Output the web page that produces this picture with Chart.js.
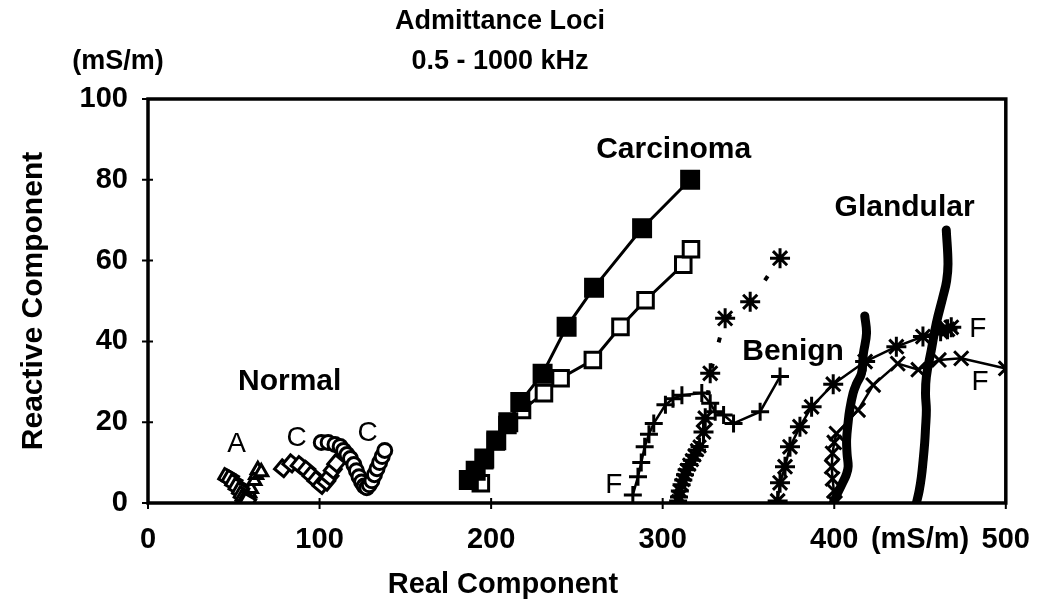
<!DOCTYPE html>
<html>
<head>
<meta charset="utf-8">
<script src="https://cdn.jsdelivr.net/npm/chart.js@4.4.1/dist/chart.umd.min.js"></script>
<style>
  html, body { margin: 0; padding: 0; background: #fff; }
  #wrap { width: 1050px; height: 615px; position: relative; }
</style>
</head>
<body>
<div id="wrap"><canvas id="c" width="1050" height="615"></canvas></div>
<script>
// ---- Data ----
const xTicks = [0, 100, 200, 300, 400, 500];
const yTicks = [0, 20, 40, 60, 80, 100];

// Normal tissue
const normalA_sqX  = [46, 48, 50, 52, 54, 55, 56, 57, 58];
const normalA_sqY  = [6.5, 6, 5, 4, 3, 2, 1.2, 0.6, 0.3];
const normalA_triX = [56, 57, 58, 59, 60, 62, 63, 64, 66];
const normalA_triY = [0.5, 1, 2, 2.5, 3.5, 5.5, 7, 8.2, 7.7];
const normalC_diaX = [78.7, 83.5, 88.4, 92.3, 95.2, 98.1, 101, 103.9, 105.8, 107.7, 109.7];
const normalC_diaY = [8.6, 9.8, 9.4, 8.2, 6.9, 5.7, 4.5, 5.3, 6.5, 8.2, 9.8];
const normalC_cirX = [101, 105, 109, 112, 114, 116, 118, 120, 121.5, 123, 124.5, 126, 127.5, 129, 130.5, 132, 133.5, 135, 136.5, 138];
const normalC_cirY = [15, 15, 14.5, 14, 13, 12, 11, 9.5, 8, 6.5, 5.2, 4.2, 3.8, 4.5, 5.5, 7, 8.5, 10, 11.5, 13];

// Carcinoma
const carcFilledX = [187, 191, 196, 203, 210, 217, 230, 244, 260, 288, 316];
const carcFilledY = [5.7, 8, 11, 15.5, 20, 25, 32, 43.6, 53.3, 68, 80];
const carcOpenX   = [194, 196, 202.7, 209.5, 218, 230.8, 240.5, 259.3, 275.4, 290, 312, 316.5];
const carcOpenY   = [4.9, 10.6, 15.2, 19.3, 23, 27.2, 30.9, 35.4, 43.6, 50.2, 59, 62.8];

// Benign
const benPlusX = [282.6, 285.6, 287.5, 289.5, 292, 294.8, 301.6, 306, 311.2, 322.8, 327.7, 330.6, 335.5, 341.3, 356.8, 368.4];
const benPlusY = [2, 6.5, 10, 13.9, 17, 19.7, 24.3, 25.8, 26.7, 27.2, 24.7, 22.6, 21.8, 19.7, 22.6, 31.3];
const benStarLowX = [309, 309.5, 310, 311, 312, 313, 314, 315.5, 317, 318.5, 320, 321.5];
const benStarLowY = [0.5, 1.5, 3, 4.5, 5.7, 7, 8.2, 9.5, 10.6, 11.8, 13.1, 14];
const benStarHighX = [323.8, 324.8, 327.7, 336.4, 351, 368.4];
const benStarHighY = [17.6, 21, 32.1, 45.7, 49.8, 60.6];

// Right-hand loci (F)
const rStarX = [367, 368.4, 371.3, 374.2, 380, 386.8, 399.4, 418, 436.2, 451.7, 462, 466, 468.2];
const rStarY = [0.5, 5, 9, 13.9, 18.9, 23.8, 29.4, 35, 38.7, 41.2, 42.5, 43, 43.5];
const rCrossX = [400.4, 399.8, 399, 398.5, 399, 400, 401.3, 413.9, 422.7, 437, 449, 461, 474, 500];
const rCrossY = [0, 3, 6, 9, 12.3, 15, 17.2, 23, 29.2, 34.5, 33, 35.4, 35.8, 33.3];

// Glandular
const gland1X = [417.8, 418.8, 417, 415.9, 413, 411, 409, 408.1, 407.2, 407.5, 408.1, 407, 405.2, 402, 399.4];
const gland1Y = [46.3, 42, 37, 32.1, 29.5, 27.2, 23, 20, 15.6, 12, 9, 7, 5.3, 2.5, 0];
const gland2X = [465.3, 466.3, 465.5, 463.4, 459.5, 456.6, 453.7, 453.2, 453.7, 453.2, 452.7, 451.8, 450.8, 449.5, 447.9];
const gland2Y = [67.6, 59.3, 55, 51.1, 44.5, 37.9, 31.3, 27, 23, 18.5, 14.8, 10.5, 6.5, 3, 0];

// Text annotations
const labelTexts = ['Normal', 'Carcinoma', 'Benign', 'Glandular', 'A', 'C', 'C', 'F', 'F', 'F'];
const labelX     = [82.6, 306.4, 376, 441, 51.7, 86.6, 128, 271.5, 483.7, 485];
const labelY     = [30, 87.4, 37.4, 73, 14.6, 16.1, 17.3, 4.5, 43, 30];
const labelBold  = [true, true, true, true, false, false, false, false, false, false];

// ---- build ----
const pts = (xs, ys) => xs.map((x, i) => ({ x: x, y: ys[i] }));
const BLACK = '#000';
const FONT = "'Liberation Sans', Arial, Helvetica, sans-serif";

function ds(xs, ys, o) {
  return Object.assign({
    data: pts(xs, ys),
    borderColor: BLACK,
    backgroundColor: '#fff',
    pointBorderColor: BLACK,
    pointBackgroundColor: '#fff',
    showLine: true,
    borderWidth: 2.5,
    pointBorderWidth: 3,
    pointRadius: 7,
    pointHoverRadius: 7,
    tension: 0
  }, o);
}

const datasets = [
  ds(normalA_sqX, normalA_sqY, { showLine: false, pointStyle: 'rect', pointRotation: 30, pointRadius: 8.5 }),
  ds(normalA_triX, normalA_triY, { showLine: false, pointStyle: 'triangle', pointRadius: 7.5 }),
  ds(normalC_diaX, normalC_diaY, { showLine: false, pointStyle: 'rect', pointRotation: 40, pointRadius: 8.5 }),
  ds(normalC_cirX, normalC_cirY, { showLine: false, pointStyle: 'circle', pointRadius: 7 }),
  ds(carcFilledX, carcFilledY, { pointStyle: 'rect', pointRadius: 12, pointBackgroundColor: BLACK, borderWidth: 3 }),
  ds(carcOpenX, carcOpenY, { pointStyle: 'rect', pointRadius: 11, borderWidth: 3 }),
  ds(benPlusX, benPlusY, { pointStyle: 'cross', pointRadius: 9, borderWidth: 2.5, pointBorderWidth: 3 }),
  ds(benStarLowX, benStarLowY, { pointStyle: 'star', pointRadius: 9, borderWidth: 2.5 }),
  ds(benStarHighX, benStarHighY, { pointStyle: 'star', pointRadius: 10, borderWidth: 4, borderDash: [5, 22], borderDashOffset: -10 }),
  ds(rStarX, rStarY, { pointStyle: 'star', pointRadius: 10, borderWidth: 2.5 }),
  ds(rCrossX, rCrossY, { pointStyle: 'crossRot', pointRadius: 10, borderWidth: 2.5 }),
  ds(gland1X, gland1Y, { pointRadius: 0, borderWidth: 9, tension: 0.4, borderCapStyle: 'round', borderJoinStyle: 'round' }),
  ds(gland2X, gland2Y, { pointRadius: 0, borderWidth: 9, tension: 0.4, borderCapStyle: 'round', borderJoinStyle: 'round' })
];

const framePlugin = {
  id: 'frame',
  afterDatasetsDraw(chart) {
    const { ctx, chartArea: a, scales } = chart;
    ctx.save();
    ctx.strokeStyle = BLACK;
    ctx.lineWidth = 3.5;
    ctx.strokeRect(a.left, a.top, a.right - a.left, a.bottom - a.top);
    // tick marks crossing the axes
    ctx.lineWidth = 2;
    ctx.beginPath();
    yTicks.forEach(v => {
      const py = scales.y.getPixelForValue(v);
      ctx.moveTo(a.left - 6, py); ctx.lineTo(a.left + 5, py);
    });
    xTicks.forEach(v => {
      const px = scales.x.getPixelForValue(v);
      ctx.moveTo(px, a.bottom - 5); ctx.lineTo(px, a.bottom + 6);
    });
    ctx.stroke();

    // annotations
    ctx.fillStyle = BLACK;
    ctx.textAlign = 'center';
    ctx.textBaseline = 'middle';
    labelTexts.forEach((t, i) => {
      ctx.font = (labelBold[i] ? 'bold 30px ' : '28px ') + FONT;
      ctx.fillText(t, scales.x.getPixelForValue(labelX[i]), scales.y.getPixelForValue(labelY[i]));
    });

    // titles
    ctx.font = 'bold 27px ' + FONT;
    ctx.fillText('Admittance Loci', 500, 22);
    ctx.fillText('0.5 - 1000 kHz', 500, 62);
    ctx.fillText('(mS/m)', 118, 62);
    ctx.font = 'bold 29px ' + FONT;
    ctx.fillText('Real Component', 503, 585);
    ctx.restore();
  }
};

new Chart(document.getElementById('c'), {
  type: 'scatter',
  data: { datasets },
  plugins: [framePlugin],
  options: {
    responsive: false,
    animation: false,
    events: [],
    layout: { padding: { left: 0, right: 42, top: 99, bottom: 0 } },
    plugins: { legend: { display: false }, tooltip: { enabled: false }, title: { display: false } },
    scales: {
      x: {
        type: 'linear', min: 0, max: 500,
        afterBuildTicks: s => { s.ticks = xTicks.concat([450]).sort((a, b) => a - b).map(v => ({ value: v })); },
        afterFit: s => { s.height = 112; },
        grid: { display: false, drawTicks: false },
        border: { display: false },
        ticks: {
          padding: 20, color: BLACK, maxRotation: 0, autoSkip: false,
          font: { family: FONT, size: 29, weight: 'bold' },
          callback: v => (v === 450 ? '(mS/m)' : String(v))
        }
      },
      y: {
        type: 'linear', min: 0, max: 100,
        afterBuildTicks: s => { s.ticks = yTicks.map(v => ({ value: v })); },
        afterFit: s => { s.width = 148; },
        grid: { display: false, drawTicks: false },
        border: { display: false },
        ticks: {
          padding: 20, color: BLACK,
          font: { family: FONT, size: 29, weight: 'bold' }
        },
        title: {
          display: true, text: 'Reactive Component', color: BLACK,
          font: { family: FONT, size: 30, weight: 'bold' },
          padding: { top: 16, bottom: 8 }
        }
      }
    }
  }
});
</script>
</body>
</html>
